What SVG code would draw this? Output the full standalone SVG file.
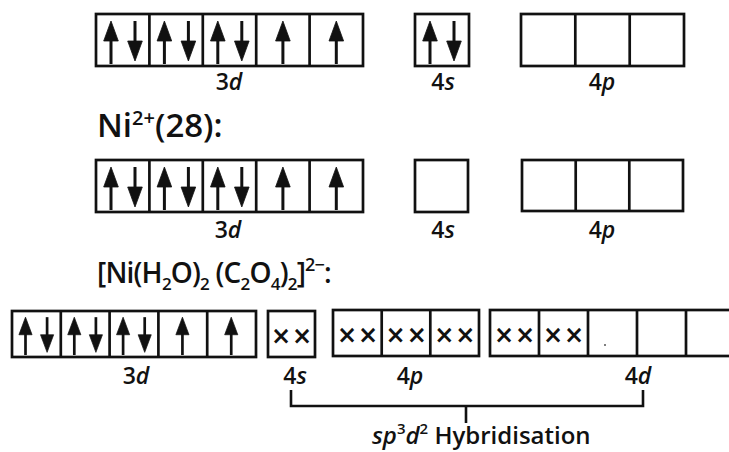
<svg xmlns="http://www.w3.org/2000/svg" width="729" height="452" viewBox="0 0 729 452">
  <style>
    .box { fill: #ffffff; stroke: #111111; stroke-width: 2.7; }
    .div { stroke: #111111; stroke-width: 2.7; }
    .stem { stroke: #111111; stroke-width: 3; fill: none; }
    .head { fill: #111111; stroke: #111111; stroke-width: 0.8; stroke-linejoin: round; }
    .lbl { font-family: "Open Sans", "Noto Sans", "DejaVu Sans", sans-serif; font-weight: 600; fill: #111111; }
    .orb { font-size: 23px; text-anchor: middle; }
    .cross { font-family: "DejaVu Sans", sans-serif; font-weight: bold; font-size: 24px; text-anchor: middle; letter-spacing: 1px; fill: #111111; }
    .brk { stroke: #111111; stroke-width: 2.6; fill: none; }
    .it { font-style: italic; }
  </style>
  <defs>
    <!-- electron arrows, drawn in a 53 x 52 cell -->
    <g id="up">
      <line class="stem" x1="0" y1="24" x2="0" y2="50"/>
      <polygon class="head" points="0,7 -7.3,27 7.3,27"/>
    </g>
    <g id="down">
      <line class="stem" x1="0" y1="7" x2="0" y2="30"/>
      <polygon class="head" points="0,47 -7.3,27 7.3,27"/>
    </g>
    <g id="pair">
      <use href="#up" x="15"/>
      <use href="#down" x="39"/>
    </g>
    <g id="single">
      <use href="#up" x="26.7"/>
    </g>
  </defs>

  <!-- Ni ground state -->
  <g id="row1-3d">
    <rect class="box" x="96" y="14" width="267" height="52"/>
    <line class="div" x1="149.4" y1="14" x2="149.4" y2="66"/>
    <line class="div" x1="202.8" y1="14" x2="202.8" y2="66"/>
    <line class="div" x1="256.2" y1="14" x2="256.2" y2="66"/>
    <line class="div" x1="309.6" y1="14" x2="309.6" y2="66"/>
    <use href="#pair" x="96" y="14"/>
    <use href="#pair" x="149.4" y="14"/>
    <use href="#pair" x="202.8" y="14"/>
    <use href="#single" x="256.2" y="14"/>
    <use href="#single" x="309.6" y="14"/>
    <text class="lbl orb" x="229" y="90">3<tspan class="it">d</tspan></text>
  </g>
  <g id="row1-4s">
    <rect class="box" x="415" y="14" width="54" height="52"/>
    <use href="#pair" x="415" y="14"/>
    <text class="lbl orb" x="443" y="90">4<tspan class="it">s</tspan></text>
  </g>
  <g id="row1-4p">
    <rect class="box" x="521" y="14" width="163" height="52"/>
    <line class="div" x1="575.3" y1="14" x2="575.3" y2="66"/>
    <line class="div" x1="629.7" y1="14" x2="629.7" y2="66"/>
    <text class="lbl orb" x="602" y="90">4<tspan class="it">p</tspan></text>
  </g>

  <!-- Ni2+ ion -->
  <text class="lbl" font-size="33" x="97" y="137">Ni<tspan font-size="20" dy="-12">2+</tspan><tspan dy="12">(28):</tspan></text>
  <g id="row2-3d">
    <rect class="box" x="96" y="160" width="267" height="52"/>
    <line class="div" x1="149.4" y1="160" x2="149.4" y2="212"/>
    <line class="div" x1="202.8" y1="160" x2="202.8" y2="212"/>
    <line class="div" x1="256.2" y1="160" x2="256.2" y2="212"/>
    <line class="div" x1="309.6" y1="160" x2="309.6" y2="212"/>
    <use href="#pair" x="96" y="160"/>
    <use href="#pair" x="149.4" y="160"/>
    <use href="#pair" x="202.8" y="160"/>
    <use href="#single" x="256.2" y="160"/>
    <use href="#single" x="309.6" y="160"/>
    <text class="lbl orb" x="228" y="238">3<tspan class="it">d</tspan></text>
  </g>
  <g id="row2-4s">
    <rect class="box" x="415" y="160" width="53" height="52"/>
    <text class="lbl orb" x="443" y="238">4<tspan class="it">s</tspan></text>
  </g>
  <g id="row2-4p">
    <rect class="box" x="522" y="160" width="161" height="51"/>
    <line class="div" x1="575.7" y1="160" x2="575.7" y2="211"/>
    <line class="div" x1="629.3" y1="160" x2="629.3" y2="211"/>
    <text class="lbl orb" x="602" y="238">4<tspan class="it">p</tspan></text>
  </g>

  <!-- complex -->
  <text class="lbl" font-size="28" letter-spacing="-0.8" x="97" y="283">[Ni(H<tspan font-size="17" dy="7">2</tspan><tspan dy="-7">O)</tspan><tspan font-size="17" dy="7">2</tspan><tspan dy="-7"> (C</tspan><tspan font-size="17" dy="7">2</tspan><tspan dy="-7">O</tspan><tspan font-size="17" dy="7">4</tspan><tspan dy="-7">)</tspan><tspan font-size="17" dy="7">2</tspan><tspan dy="-7">]</tspan><tspan font-size="18" dy="-12">2−</tspan><tspan dy="12">:</tspan></text>
  <g id="row3-3d">
    <rect class="box" x="12" y="311" width="244" height="46"/>
    <line class="div" x1="60.8" y1="311" x2="60.8" y2="357"/>
    <line class="div" x1="109.6" y1="311" x2="109.6" y2="357"/>
    <line class="div" x1="158.4" y1="311" x2="158.4" y2="357"/>
    <line class="div" x1="207.2" y1="311" x2="207.2" y2="357"/>
    <g transform="translate(12,311) scale(0.9,0.88)"><use href="#pair"/></g>
    <g transform="translate(60.8,311) scale(0.9,0.88)"><use href="#pair"/></g>
    <g transform="translate(109.6,311) scale(0.9,0.88)"><use href="#pair"/></g>
    <g transform="translate(158.4,311) scale(0.9,0.88)"><use href="#single"/></g>
    <g transform="translate(207.2,311) scale(0.9,0.88)"><use href="#single"/></g>
    <text class="lbl orb" x="136" y="384">3<tspan class="it">d</tspan></text>
  </g>
  <g id="row3-4s">
    <rect class="box" x="268" y="311" width="47" height="46"/>
    <text class="cross" x="292" y="344">××</text>
    <text class="lbl orb" x="295" y="384">4<tspan class="it">s</tspan></text>
  </g>
  <g id="row3-4p">
    <rect class="box" x="333" y="310" width="146" height="46"/>
    <line class="div" x1="381.7" y1="310" x2="381.7" y2="356"/>
    <line class="div" x1="430.3" y1="310" x2="430.3" y2="356"/>
    <text class="cross" x="358" y="343">××</text>
    <text class="cross" x="406.7" y="343">××</text>
    <text class="cross" x="455.3" y="343">××</text>
    <text class="lbl orb" x="410" y="384">4<tspan class="it">p</tspan></text>
  </g>
  <g id="row3-4d">
    <rect class="box" x="490" y="310" width="245" height="46"/>
    <line class="div" x1="539" y1="310" x2="539" y2="356"/>
    <line class="div" x1="588" y1="310" x2="588" y2="356"/>
    <line class="div" x1="637" y1="310" x2="637" y2="356"/>
    <line class="div" x1="686" y1="310" x2="686" y2="356"/>
    <text class="cross" x="515" y="343">××</text>
    <text class="cross" x="564" y="343">××</text>
    <circle cx="605" cy="345" r="1" fill="#555555"/>
    <text class="lbl orb" x="638" y="384">4<tspan class="it">d</tspan></text>
  </g>

  <!-- bracket grouping the hybrid orbitals -->
  <g id="connectors">
    <path class="brk" d="M291,390 V406 H643 V390"/>
    <line class="brk" x1="466" y1="406" x2="466" y2="423"/>
  </g>
  <g id="hybrid-label">
    <text class="lbl" font-size="24" x="372" y="444"><tspan class="it">sp</tspan><tspan font-size="15" dy="-10">3</tspan><tspan class="it" dy="10">d</tspan><tspan font-size="15" dy="-10">2</tspan><tspan dy="10"> Hybridisation</tspan></text>
  </g>
</svg>
